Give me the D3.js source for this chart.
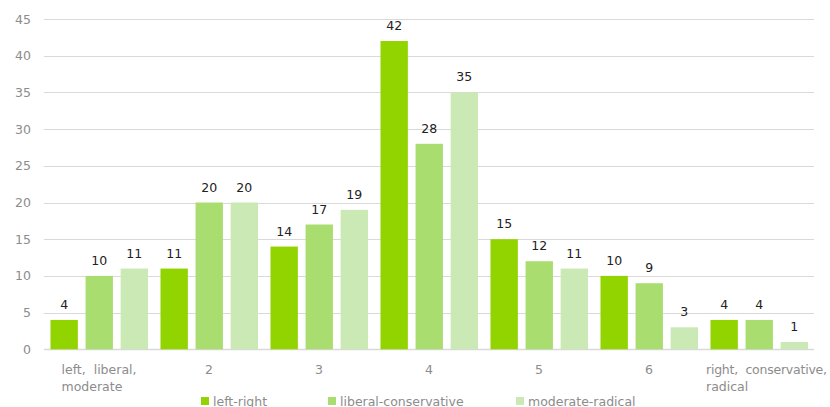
<!DOCTYPE html>
<html>
<head>
<meta charset="utf-8">
<script src="https://cdn.jsdelivr.net/npm/d3@7"></script>
<style>
  html, body { margin: 0; padding: 0; background: #fff; }
  svg { display: block; font-family: "DejaVu Sans", Verdana, sans-serif; }
  .cat { white-space: pre; }
</style>
</head>
<body>
<svg id="chart" width="830" height="407"></svg>
<script>
const categories = [["left,  liberal,", "moderate"], ["2"], ["3"], ["4"], ["5"], ["6"], ["right,  conservative,", "radical"]];
const seriesNames = ["left-right", "liberal-conservative", "moderate-radical"];
const leftRight = [4, 11, 14, 42, 15, 10, 4];
const liberalConservative = [10, 20, 17, 28, 12, 9, 4];
const moderateRadical = [11, 20, 19, 35, 11, 3, 1];
const yTicks = [0, 5, 10, 15, 20, 25, 30, 35, 40, 45];
const colors = ["#92d400", "#a9dd70", "#cae9b4"];

const series = [leftRight, liberalConservative, moderateRadical];
const svg = d3.select("#chart");
const m = { left: 44, right: 16, top: 19, bottom: 58 };
const W = 830, H = 407;
const x0 = d3.scaleBand().domain(d3.range(categories.length)).range([m.left, W - m.right]).paddingInner(0).paddingOuter(0);
const x1 = d3.scaleBand().domain(d3.range(series.length)).range([6.5, x0.bandwidth() - 6]).paddingInner(0.22);
const y = d3.scaleLinear().domain([0, 45]).range([349.3, 19]);

// gridlines
svg.append("g").selectAll("line").data(yTicks).join("line")
  .attr("x1", m.left).attr("x2", W - m.right)
  .attr("y1", d => Math.round(y(d)) + 0.5).attr("y2", d => Math.round(y(d)) + 0.5)
  .attr("stroke", "#d9d9d9").attr("stroke-width", d => d === 0 ? 1.5 : 1);

// y tick labels
svg.append("g").selectAll("text").data(yTicks).join("text")
  .attr("x", 31).attr("y", d => y(d) + 4.5)
  .attr("text-anchor", "end").attr("font-size", 12.5).attr("fill", "#8c8c8c")
  .text(d => d);

// bars
const groups = svg.append("g").selectAll("g").data(categories).join("g")
  .attr("transform", (d, i) => `translate(${x0(i)},0)`);
groups.each(function(c, i) {
  const g = d3.select(this);
  series.forEach((s, j) => {
    g.append("rect")
      .attr("x", x1(j)).attr("width", x1.bandwidth())
      .attr("y", y(s[i])).attr("height", y(0) - y(s[i]))
      .attr("fill", colors[j]);
    g.append("text")
      .attr("x", x1(j) + x1.bandwidth() / 2).attr("y", y(s[i]) - 11)
      .attr("text-anchor", "middle").attr("font-size", 12.5).attr("fill", "#222")
      .text(s[i]);
  });
});

// category labels
groups.each(function(c, i) {
  const g = d3.select(this);
  const t = g.append("text").attr("class", "cat").attr("xml:space", "preserve")
    .attr("font-size", 12.5).attr("fill", "#8c8c8c");
  if (c.length === 1) {
    t.attr("x", x0.bandwidth() / 2).attr("y", 374).attr("text-anchor", "middle").text(c[0]);
  } else {
    const cx = x0.bandwidth() / 2;
    const t1 = t.append("tspan").attr("y", 374).text(c[0]);
    t.append("tspan").attr("y", 391).text(c[1]);
    const w = t1.node().getComputedTextLength();
    let sx = cx - w / 2;
    if (i === categories.length - 1) {
      sx = 2;
      const avail = W - 3 - (x0(i) + sx);
      if (w > avail) t1.attr("textLength", avail).attr("lengthAdjust", "spacing");
    }
    t.selectAll("tspan").attr("x", sx);
  }
});

// legend
const legX = [201, 328, 516];
const leg = svg.append("g").selectAll("g").data(seriesNames).join("g")
  .attr("transform", (d, i) => `translate(${legX[i]},0)`);
leg.append("rect").attr("x", 0).attr("y", 397).attr("width", 8).attr("height", 8).attr("fill", (d, i) => colors[i]);
leg.append("text").attr("x", 12).attr("y", 406).attr("font-size", 12.5).attr("fill", "#8c8c8c").text(d => d);
</script>
</body>
</html>
